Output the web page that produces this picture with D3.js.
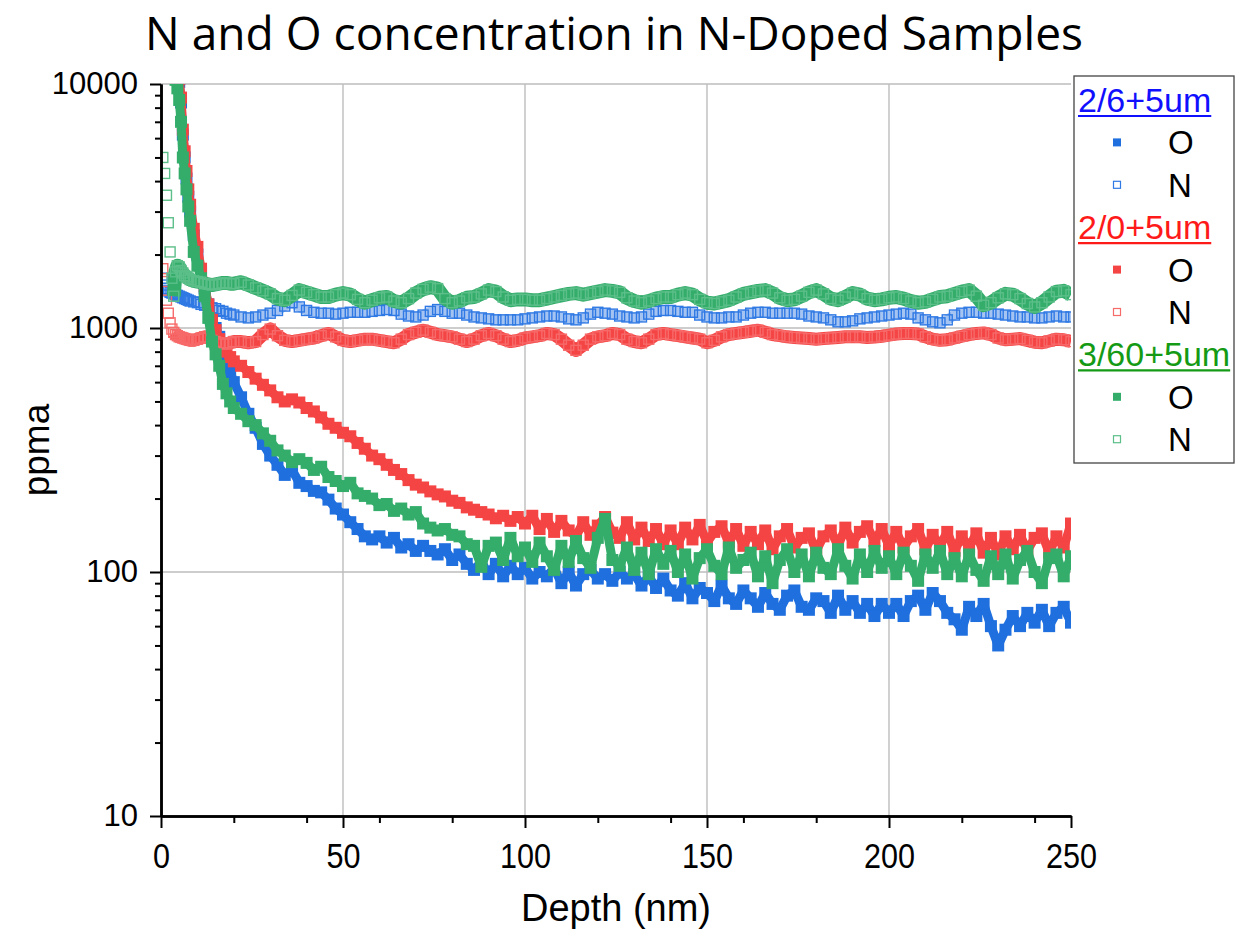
<!DOCTYPE html>
<html>
<head>
<meta charset="utf-8">
<script src="https://cdn.jsdelivr.net/npm/d3@7"></script>
<style>
  body { margin: 0; background: #fff; }
</style>
</head>
<body>
<svg id="chart" width="1235" height="930"></svg>
<script>
// depth (nm) at which each profile point is read
const depth = [
  0.5, 1, 1.5, 2, 2.5, 3, 3.5, 4,
  4.5, 5, 5.5, 6, 6.5, 7, 7.5, 8,
  9, 10, 11, 12, 13, 14, 15, 16, 17, 18, 19, 20,
  22, 24, 26, 28, 30, 32, 34, 36, 38, 40,
  42, 44, 46, 48, 50, 52, 54, 56, 58, 60,
  62, 64, 66, 68, 70, 72, 74, 76, 78, 80,
  82, 84, 86, 88, 90, 92, 94, 96, 98, 100,
  102, 104, 106, 108, 110, 112, 114, 116, 118, 120,
  122, 124, 126, 128, 130, 132, 134, 136, 138, 140,
  142, 144, 146, 148, 150, 152, 154, 156, 158, 160,
  162, 164, 166, 168, 170, 172, 174, 176, 178, 180,
  182, 184, 186, 188, 190, 192, 194, 196, 198, 200,
  202, 204, 206, 208, 210, 212, 214, 216, 218, 220,
  222, 224, 226, 228, 230, 232, 234, 236, 238, 240,
  242, 244, 246, 248, 250
]

// 2/6+5um
const o26 = [
  null, null, null, null, null, null, null, null,
  null, 10200, 8400, 6200, 5000, 4100, 3450, 3000,
  2400, 2000, 1700, 1450, 1250, 1100, 1000, 920, 830, 730, 660, 600,
  520, 445, 390, 335, 300, 275, 250, 262, 232, 225,
  215, 212, 198, 182, 172, 160, 150, 140, 136, 140,
  132, 138, 126, 130, 122, 128, 122, 118, 124, 112,
  118, 108, 102, 110, 98, 108, 96, 106, 98, 104,
  94, 100, 96, 104, 90, 100, 88, 98, 102, 94,
  98, 92, 100, 94, 98, 88, 96, 86, 94, 84,
  80, 90, 78, 86, 82, 76, 88, 78, 74, 84,
  78, 72, 82, 74, 70, 80, 84, 72, 70, 78,
  76, 68, 80, 70, 76, 68, 74, 66, 74, 68,
  74, 66, 76, 80, 70, 82, 76, 68, 64, 58,
  72, 66, 74, 60, 50, 58, 66, 60, 68, 62,
  70, 60, 68, 72, 62
]
const n26 = [
  1600, 1500, 1450, 1420, 1400, 1390, 1380, 1370,
  1360, 1350, 1340, 1330, 1320, 1310, 1300, 1290,
  1280, 1270, 1250, 1240, 1230, 1210, 1200, 1180, 1170, 1150, 1140, 1130,
  1110, 1100, 1110, 1130, 1150, 1180, 1230, 1270, 1220, 1180,
  1160, 1150, 1150, 1140, 1150, 1160, 1160, 1160, 1170, 1180,
  1190, 1180, 1140, 1120, 1110, 1130, 1170, 1190, 1170, 1150,
  1150, 1130, 1110, 1100, 1090, 1080, 1080, 1080, 1080, 1090,
  1100, 1110, 1120, 1120, 1110, 1090, 1080, 1100, 1140, 1160,
  1150, 1140, 1120, 1110, 1100, 1110, 1140, 1170, 1180, 1180,
  1170, 1160, 1160, 1130, 1110, 1100, 1100, 1110, 1110, 1130,
  1150, 1160, 1160, 1150, 1150, 1150, 1150, 1140, 1120, 1110,
  1100, 1080, 1060, 1060, 1070, 1090, 1100, 1110, 1120, 1130,
  1140, 1150, 1140, 1100, 1080, 1060, 1050, 1080, 1130, 1150,
  1160, 1160, 1150, 1150, 1140, 1130, 1120, 1110, 1110, 1100,
  1100, 1110, 1120, 1110, 1110
]

// 2/0+5um
const o20 = [
  null, null, null, null, null, null, null, null,
  null, 10500, 8800, 6500, 5300, 4400, 3700, 3200,
  2550, 2150, 1750, 1480, 1250, 1080, 980, 900, 840, 800, 760, 730,
  700, 660, 620, 585, 555, 520, 500, 510, 495, 470,
  455, 430, 405, 390, 372, 360, 338, 320, 300, 290,
  275, 262, 252, 238, 228, 222, 214, 208, 204, 196,
  192, 184, 180, 176, 172, 166, 170, 162, 168, 158,
  170, 150, 165, 146, 162, 148, 140, 160, 142, 155,
  168, 145, 138, 160, 136, 152, 134, 150, 130, 148,
  130, 152, 136, 156, 132, 146, 154, 132, 150, 128,
  146, 130, 148, 124, 140, 150, 126, 138, 144, 122,
  140, 148, 128, 152, 132, 146, 154, 134, 150, 128,
  146, 126, 140, 150, 124, 142, 128, 146, 122, 140,
  126, 144, 120, 138, 118, 140, 124, 142, 122, 138,
  144, 120, 140, 126, 158
]
const n20 = [
  1750, 1550, 1300, 1150, 1050, 990, 960, 940,
  930, 920, 915, 910, 905, 900, 895, 890,
  890, 900, 910, 920, 910, 890, 880, 870, 860, 860, 870, 880,
  880, 870, 880, 940, 990, 930, 890, 880, 890, 900,
  910, 930, 950, 920, 890, 880, 890, 900, 900, 890,
  880, 870, 900, 940, 960, 980, 960, 940, 930, 920,
  900, 880, 900, 930, 950, 930, 900, 880, 890, 910,
  920, 930, 950, 940, 900, 850, 810, 850, 900, 920,
  930, 950, 940, 900, 880, 870, 900, 940, 950, 940,
  930, 920, 910, 900, 870, 890, 920, 940, 950, 960,
  970, 980, 960, 940, 930, 920, 915, 910, 905, 900,
  905, 910, 915, 920, 920, 920, 915, 918, 925, 935,
  945, 950, 950, 945, 920, 900, 890, 895, 910, 925,
  940, 950, 955, 940, 910, 895, 900, 905, 890, 875,
  870, 885, 900, 895, 880
]

// 3/60+5um
const o360 = [
  null, null, null, null, null, null, null, 10400,
  9600, 8600, 7000, 5000, 4300, 3700, 3150, 2750,
  2050, 1800, 1600, 1350, 1100, 880, 780, 700, 590, 540, 500, 470,
  445, 415, 400, 370, 345, 315, 300, 282, 290, 280,
  262, 270, 245, 236, 225, 232, 210, 205, 200, 188,
  190, 178, 182, 172, 176, 158, 152, 148, 150, 142,
  140, 130, 128, 105, 128, 132, 112, 138, 116, 126,
  110, 132, 116, 102, 128, 110, 134, 114, 104, 138,
  165, 112, 106, 126, 102, 120, 98, 124, 108, 122,
  100, 118, 94, 114, 124, 106, 98, 126, 104, 112,
  120, 96, 116, 90, 112, 124, 100, 118, 96, 120,
  104, 98, 124, 106, 94, 118, 100, 122, 104, 116,
  98, 120, 106, 92, 118, 104, 122, 98, 114, 96,
  118, 102, 92, 116, 98, 118, 94, 112, 122, 100,
  90, 114, 118, 96, 116
]
const n360 = [
  5000, 4300, 3500, 2700, 2050, 1600, 1350, 1700,
  1800, 1780, 1720, 1680, 1640, 1620, 1600, 1580,
  1560, 1550, 1540, 1520, 1510, 1500, 1510, 1520, 1530, 1530, 1520, 1520,
  1540, 1500, 1460, 1420, 1380, 1320, 1300, 1360, 1430, 1400,
  1370, 1340, 1340, 1370, 1390, 1370, 1310, 1270, 1300, 1330,
  1340, 1290, 1270, 1320, 1390, 1440, 1470, 1450, 1320, 1270,
  1290, 1330, 1340, 1380, 1430, 1410, 1340, 1300, 1310, 1310,
  1300, 1300, 1320, 1340, 1360, 1380, 1390, 1370, 1390, 1410,
  1430, 1420, 1400, 1330, 1290, 1270, 1290, 1320, 1340, 1340,
  1370, 1390, 1370, 1310, 1270, 1260, 1280, 1300, 1340, 1380,
  1400, 1420, 1430, 1390, 1330, 1300, 1310, 1350, 1400, 1430,
  1380, 1320, 1300, 1340, 1390, 1370, 1320, 1300, 1310, 1330,
  1340, 1320, 1290, 1270, 1280, 1310, 1340, 1350, 1380, 1410,
  1430, 1350, 1240, 1270, 1330, 1380, 1370, 1320, 1260, 1220,
  1270, 1340, 1410, 1420, 1370
]

const groups = ['2/6+5um', '2/0+5um', '3/60+5um']
const species = ['O', 'N']
const xTicks = [0, 50, 100, 150, 200, 250]
const yTicks = [10, 100, 1000, 10000]

// styling per sample (kept apart from the data)
const groupColor = ['#1010ff', '#ff1a1a', '#159a15']
const markColor = ['#1f6fdf', '#f54444', '#34ad6b']
const openColor = ['#2f79e4', '#f76a6a', '#5cbf89']
const bandColor = ['#a5c4f2', '#f54444', '#34ad6b']
const bandWidth = [10, 13, 14]

const series = [
  { g: 0, sp: 'O', values: o26 }, { g: 0, sp: 'N', values: n26 },
  { g: 1, sp: 'O', values: o20 }, { g: 1, sp: 'N', values: n20 },
  { g: 2, sp: 'O', values: o360 }, { g: 2, sp: 'N', values: n360 }
]
series.forEach(s => {
  if (s.values.length !== depth.length) throw new Error('length mismatch ' + groups[s.g] + ' ' + s.sp + ' ' + s.values.length)
})

const W = 1235, H = 930
const m = { l: 161, r: 1071, t: 84, b: 816 }
const x = d3.scaleLinear().domain([0, 250]).range([m.l, m.r])
const y = d3.scaleLog().domain([10, 10000]).range([m.b, m.t])

const svg = d3.select('#chart')
svg.append('rect').attr('width', W).attr('height', H).attr('fill', '#fff')

svg.append('defs').append('clipPath').attr('id', 'clip')
  .append('rect').attr('x', m.l).attr('y', m.t).attr('width', m.r - m.l).attr('height', m.b - m.t)

// title
svg.append('text')
  .attr('x', 614).attr('y', 50)
  .attr('text-anchor', 'middle')
  .attr('font-family', '"Open Sans", "Noto Sans", sans-serif')
  .attr('font-size', 46)
  .attr('textLength', 938).attr('lengthAdjust', 'spacingAndGlyphs')
  .text('N and O concentration in N-Doped Samples')

// grid
const grid = svg.append('g').attr('stroke', '#bdbdbd').attr('stroke-width', 1.4)
grid.selectAll('line.gx').data(xTicks.filter(d => d > 0 && d < 250)).join('line')
  .attr('class', 'gx')
  .attr('x1', x).attr('x2', x).attr('y1', m.t).attr('y2', m.b)
grid.selectAll('line.gy').data(yTicks.filter(d => d > 10)).join('line')
  .attr('class', 'gy')
  .attr('x1', m.l).attr('x2', m.r).attr('y1', y).attr('y2', y)

// data
const plot = svg.append('g').attr('clip-path', 'url(#clip)')
const line = d3.line().x(p => x(p.d)).y(p => y(p.v))

series.forEach(s => {
  const pts = depth.map((d, i) => ({ d, v: s.values[i] })).filter(p => p.v != null)
  const g = plot.append('g')
  if (s.sp === 'O') {
    g.append('path').datum(pts).attr('d', line)
      .attr('fill', 'none').attr('stroke', markColor[s.g])
      .attr('stroke-width', 9).attr('stroke-linejoin', 'round')
    g.selectAll('rect').data(pts).join('rect')
      .attr('x', p => x(p.d) - 6).attr('y', p => y(p.v) - 6)
      .attr('width', 12).attr('height', 12)
      .attr('fill', markColor[s.g])
  } else {
    g.append('path').datum(pts.filter(p => p.d >= 3.5)).attr('d', line)
      .attr('fill', 'none').attr('stroke', bandColor[s.g])
      .attr('stroke-width', bandWidth[s.g]).attr('stroke-linejoin', 'round')
    g.selectAll('rect').data(pts).join('rect')
      .attr('x', p => x(p.d) - 5).attr('y', p => y(p.v) - 5)
      .attr('width', 10).attr('height', 10)
      .attr('fill', 'none').attr('stroke', openColor[s.g]).attr('stroke-width', 1.4)
  }
})

// axes
const font = '"Liberation Sans", Arial, sans-serif'
function styleAxis(sel) {
  sel.attr('font-family', font).attr('font-size', 31)
  sel.select('.domain').attr('stroke', '#000').attr('stroke-width', 2.5)
  sel.selectAll('.tick line').attr('stroke', '#000').attr('stroke-width', 2)
  sel.selectAll('.tick text').attr('fill', '#000')
}

const minorY = y.ticks().filter(d => !yTicks.includes(d))
svg.append('g').attr('transform', `translate(${m.l},0)`)
  .call(d3.axisLeft(y).tickValues(minorY).tickFormat('').tickSize(6).tickSizeOuter(0))
  .call(styleAxis)
svg.append('g').attr('transform', `translate(${m.l},0)`)
  .call(d3.axisLeft(y).tickValues(yTicks).tickFormat(d3.format('d')).tickSize(11).tickPadding(12).tickSizeOuter(0))
  .call(styleAxis)

const minorX = x.ticks(10).filter(d => !xTicks.includes(d))
svg.append('g').attr('transform', `translate(0,${m.b})`)
  .call(d3.axisBottom(x).tickValues(minorX).tickFormat('').tickSize(7).tickSizeOuter(0))
  .call(styleAxis)
svg.append('g').attr('transform', `translate(0,${m.b})`)
  .call(d3.axisBottom(x).tickValues(xTicks).tickSize(12).tickPadding(15).tickSizeOuter(0))
  .call(styleAxis)
  .call(a => a.selectAll('.tick text')
    .attr('font-size', 35)
    .attr('textLength', d => String(d).length * 17)
    .attr('lengthAdjust', 'spacingAndGlyphs'))

// axis titles
svg.append('text')
  .attr('transform', 'translate(49,450) rotate(-90)')
  .attr('text-anchor', 'middle')
  .attr('font-family', font).attr('font-size', 37)
  .text('ppma')
svg.append('text')
  .attr('x', 616).attr('y', 921)
  .attr('text-anchor', 'middle')
  .attr('font-family', font).attr('font-size', 38)
  .text('Depth (nm)')

// legend
const lg = svg.append('g')
lg.append('rect')
  .attr('x', 1074).attr('y', 76).attr('width', 160).attr('height', 387)
  .attr('fill', '#fff').attr('stroke', '#444').attr('stroke-width', 1.3)
const rowY = k => 100 + k * 42.4

groups.forEach((name, gi) => {
  const ty = rowY(gi * 3) + 12
  const t = lg.append('text')
    .attr('x', 1078).attr('y', ty)
    .attr('font-family', font).attr('font-size', 34)
    .attr('fill', groupColor[gi])
    .text(name)
  const tw = t.node().getComputedTextLength()
  lg.append('line')
    .attr('x1', 1078).attr('x2', 1078 + tw).attr('y1', ty + 4).attr('y2', ty + 4)
    .attr('stroke', groupColor[gi]).attr('stroke-width', 2.2)

  species.forEach((sp, si) => {
    const cy = rowY(gi * 3 + 1 + si)
    if (sp === 'O') {
      lg.append('rect').attr('x', 1113).attr('y', cy - 4).attr('width', 8).attr('height', 8)
        .attr('fill', markColor[gi])
    } else {
      lg.append('rect').attr('x', 1113.5).attr('y', cy - 3.5).attr('width', 7).attr('height', 7)
        .attr('fill', 'none').attr('stroke', openColor[gi]).attr('stroke-width', 1.2)
    }
    lg.append('text')
      .attr('x', 1168).attr('y', cy + 12)
      .attr('font-family', font).attr('font-size', 33)
      .text(sp)
  })
})
</script>
</body>
</html>
